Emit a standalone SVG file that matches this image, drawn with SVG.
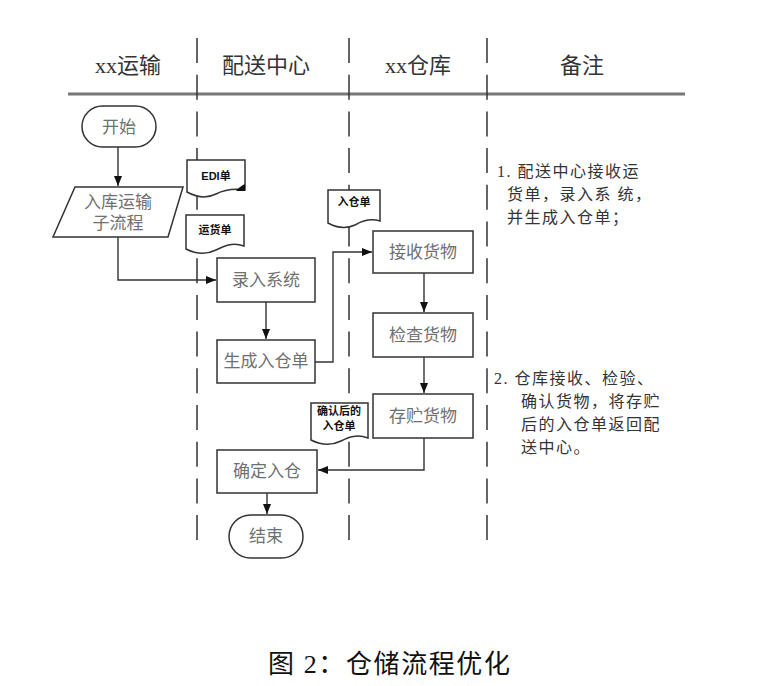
<svg xmlns="http://www.w3.org/2000/svg" width="768" height="686" viewBox="0 0 768 686">
<style>
.hdr{font-family:"Liberation Serif","Noto Sans CJK SC",serif;font-size:22px;fill:#333;text-anchor:middle}
.lbl{font-family:"Liberation Serif","Noto Sans CJK SC",serif;font-size:17px;fill:#707070;text-anchor:middle}
.doc{font-family:"Liberation Sans","Noto Sans CJK SC",sans-serif;font-size:11px;font-weight:bold;fill:#111;text-anchor:middle}
.note{font-family:"Liberation Serif","Noto Sans CJK SC",serif;font-size:16px;fill:#333;letter-spacing:1.5px}
.cap{font-family:"Liberation Serif","Noto Sans CJK SC",serif;font-size:26px;fill:#111}
.box{fill:#fff;stroke:#333;stroke-width:1.5}
.div{stroke:#333;stroke-width:1.5;stroke-dasharray:25 11.7;fill:none}
.con{fill:none;stroke:#333;stroke-width:1.4}
</style>
<defs>
<marker id="arr" markerUnits="userSpaceOnUse" markerWidth="10" markerHeight="8" refX="10" refY="4" orient="auto">
<path d="M0 0 L10 4 L0 8 Z" fill="#111"/>
</marker>
</defs>
<rect width="768" height="686" fill="#fff"/>
<g id="header">
<text class="hdr" x="128" y="73">xx运输</text>
<text class="hdr" x="266" y="73">配送中心</text>
<text class="hdr" x="418" y="73">xx仓库</text>
<text class="hdr" x="582" y="73">备注</text>
<line x1="68" y1="94" x2="685" y2="94" stroke="#777" stroke-width="3"/>
</g>
<g id="dividers">
<line class="div" x1="197" y1="38" x2="197" y2="541"/>
<line class="div" x1="349" y1="38" x2="349" y2="541"/>
<line class="div" x1="487" y1="38" x2="487" y2="541"/>
</g>
<g id="connectors">
<path class="con" d="M118 147 V186" marker-end="url(#arr)"/>
<path class="con" d="M118 237 V280 H216" marker-end="url(#arr)"/>
<path class="con" d="M266 302 V339" marker-end="url(#arr)"/>
<path class="con" d="M315 362 H333 V252 H372" marker-end="url(#arr)"/>
<path class="con" d="M424 273 V312" marker-end="url(#arr)"/>
<path class="con" d="M424 357 V393" marker-end="url(#arr)"/>
<path class="con" d="M424 438 V470 H318" marker-end="url(#arr)"/>
<path class="con" d="M267 493 V514" marker-end="url(#arr)"/>
</g>
<g id="start">
<rect class="box" x="82" y="106" width="74" height="41" rx="20.5"/>
<text class="lbl" x="119" y="133">开始</text>
</g>
<g id="subprocess">
<path class="box" d="M75 187 H183 L168 237 H53 Z"/>
<text class="lbl" x="118" y="208">入库运输</text>
<text class="lbl" x="118" y="229">子流程</text>
</g>
<g id="doc-edi">
<path class="box" d="M187 160 H245 V190 C232 188 224 190 216 194 C206 199 196 197 187 192 Z"/>
<path d="M245 184 L245 191 L236 191 C238 188 241 186 245 184 Z" fill="#111"/>
<text class="doc" x="216" y="180">EDI单</text>
</g>
<g id="doc-freight">
<path class="box" d="M186 215 H244 V246 C232 242 224 246 216 250 C206 255 196 254 186 249 Z"/>
<text class="doc" x="215" y="234">运货单</text>
</g>
<g id="doc-inbound">
<path class="box" d="M328 190 H380 V221 C370 218 362 221 355 225 C346 229 337 228 328 223 Z"/>
<text class="doc" x="354" y="206">入仓单</text>
</g>
<g id="doc-confirmed">
<path class="box" d="M311 403 H368 V438 C357 434 349 437 341 441 C331 446 321 445 311 440 Z"/>
<text class="doc" x="339" y="415">确认后的</text>
<text class="doc" x="339" y="430">入仓单</text>
</g>
<g id="enter-system">
<rect class="box" x="217" y="258" width="98" height="44"/>
<text class="lbl" x="266" y="286">录入系统</text>
</g>
<g id="gen-order">
<rect class="box" x="217" y="340" width="98" height="43"/>
<text class="lbl" x="266" y="367">生成入仓单</text>
</g>
<g id="receive">
<rect class="box" x="373" y="231" width="100" height="42"/>
<text class="lbl" x="423" y="258">接收货物</text>
</g>
<g id="inspect">
<rect class="box" x="373" y="313" width="100" height="44"/>
<text class="lbl" x="423" y="341">检查货物</text>
</g>
<g id="store">
<rect class="box" x="373" y="394" width="100" height="44"/>
<text class="lbl" x="423" y="422">存贮货物</text>
</g>
<g id="confirm">
<rect class="box" x="217" y="450" width="100" height="43"/>
<text class="lbl" x="267" y="477">确定入仓</text>
</g>
<g id="end">
<rect class="box" x="229" y="515" width="74" height="43" rx="21.5"/>
<text class="lbl" x="266" y="542">结束</text>
</g>
<g id="notes">
<text class="note" x="497" y="177">1. 配送中心接收运</text>
<text class="note" x="507" y="200">货单，录入系 统，</text>
<text class="note" x="507" y="223">并生成入仓单；</text>
<text class="note" x="494" y="384">2. 仓库接收、检验、</text>
<text class="note" x="521" y="407">确认货物，将存贮</text>
<text class="note" x="521" y="430">后的入仓单返回配</text>
<text class="note" x="521" y="453">送中心。</text>
</g>
<g id="caption">
<text class="cap" x="268" y="673" textLength="242" lengthAdjust="spacing">图 2：仓储流程优化</text>
</g>
</svg>
